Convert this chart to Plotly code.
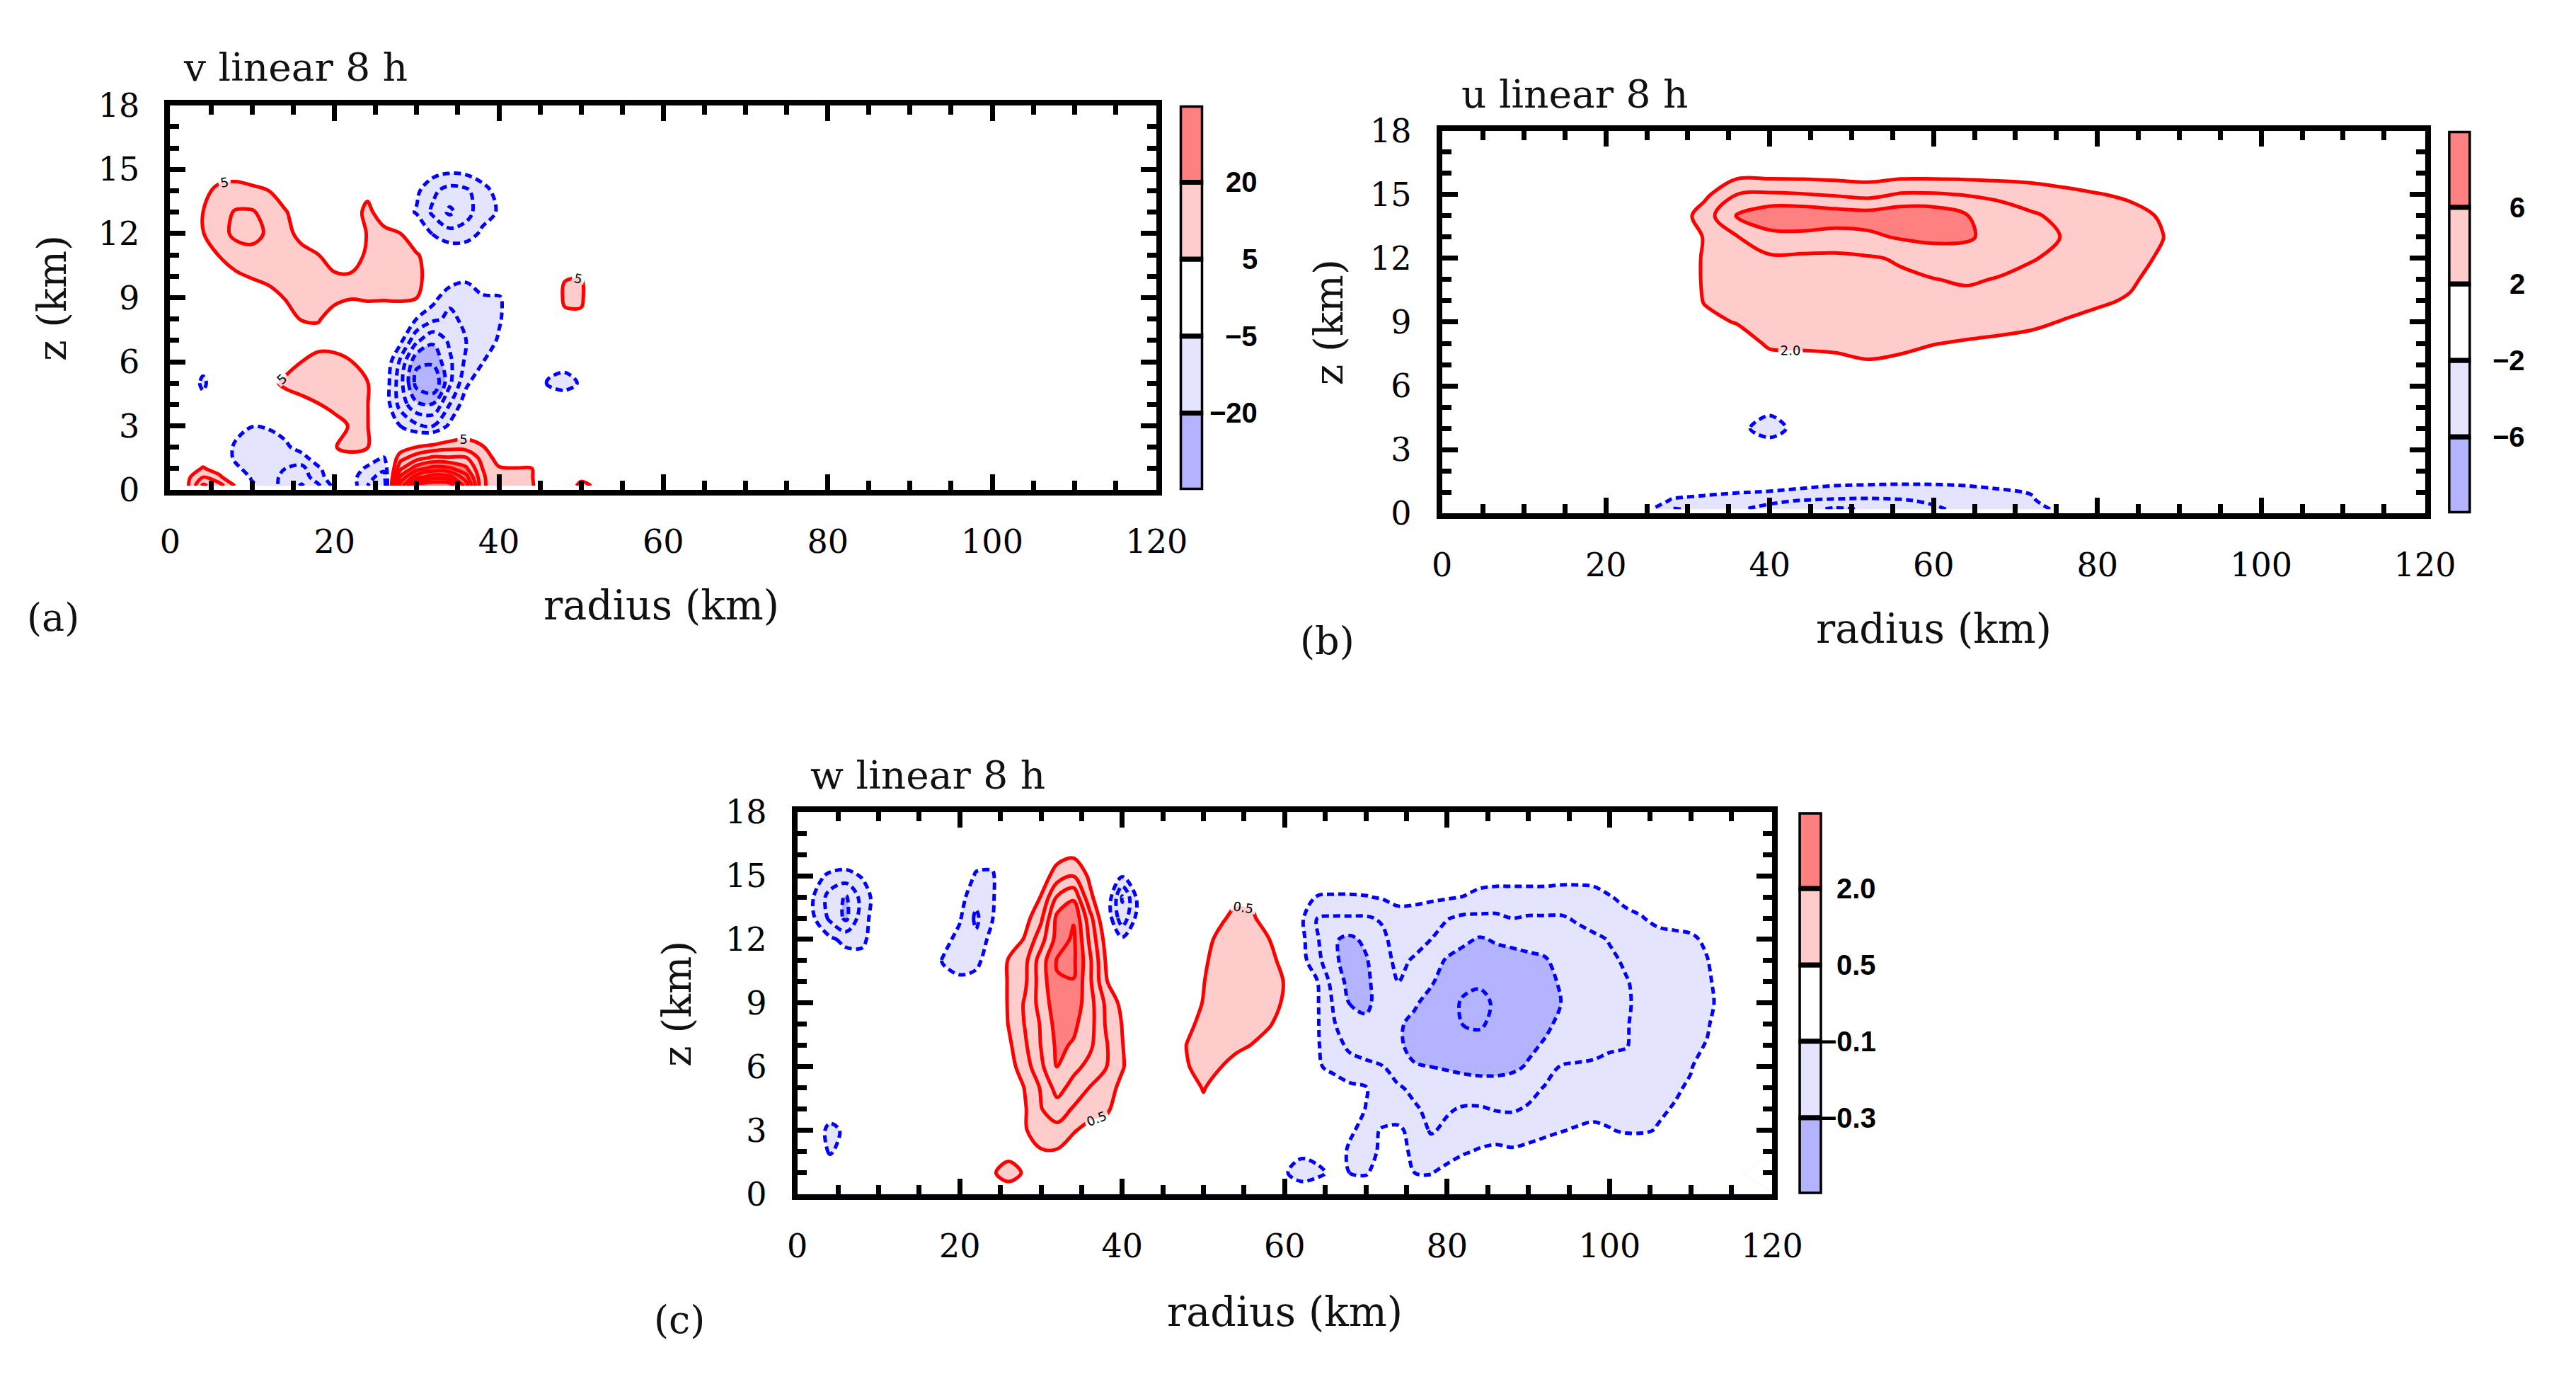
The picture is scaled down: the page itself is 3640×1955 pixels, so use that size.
import plotly.graph_objects as go

# page is 3640 x 1955; the browser keeps an 8 px body margin, so the figure is
# made that much smaller and every page position below is shifted by it
PAGE_W, PAGE_H, PAD = 3640, 1955, 8
W, H = PAGE_W - 2 * PAD, PAGE_H - 2 * PAD
SERIF = "DejaVu Serif"
SMOOTH = 1.0

# ---------------- (a) v, linear, 8 h ----------------
V_RADIUS = [0, 2, 4, 6, 8, 10, 12, 14, 16, 18, 20, 22, 24, 26, 28, 30, 32, 34, 36, 38,
            40, 42, 44, 46, 48, 50, 52, 56, 120]
V_HEIGHT = [0.2, 0.6, 1.0, 1.5, 2, 3, 4, 5, 6, 7, 8, 9, 10, 11, 12, 13, 14, 15, 16, 17, 18]
V_WIND = [
    [0, 3.5, 16, 12, 4.5, -4, -7.5, -12, -15.5, -11, -3.5, -2, -10, -14, 27, 47, 50, 49, 33, 10.5, 8, 7, 5.6, 0, 1, 6.5, 4, 0, 0],
    [0, 3.5, 10, 6, 0, -6, -8.5, -11, -13, -7, -2, -3, -8.5, -12, 21, 33, 38, 37, 27, 10.5, 7.5, 6.5, 5.3, 0, 0, 3.5, 2, 0, 0],
    [0, 2, 5.5, 2.5, -4, -7, -8.5, -10, -11.5, -6, -1, -2, -6, -9, 14, 23, 27, 26, 21, 10, 5.5, 5.2, 5.1, 0, 0, 0, 0, 0, 0],
    [0, 0, 2, -1, -6, -8, -8.5, -9, -7, -2, 3.5, 3.5, -2, -5.5, 8, 13, 16, 15.5, 15.5, 8, 3, 2, 1.5, 0, 0, 0, 0, 0, 0],
    [0, 0, 0, -1, -6, -7.5, -7.5, -6, -3, 1, 4.8, 6.2, 5.3, -1, 2, 5.2, 7, 8.5, 8, 5.5, 1, 0, 0, 0, 0, 0, 0, 0, 0],
    [0, 0, 0, -1, -3, -4.9, -4.5, -3, -1, 1, 3, 5.5, 5.2, 0, -5, -9, -10, -4, 0, 0, 0, 0, 0, 0, 0, 0, 0, 0, 0],
    [0, 0, -3, 0, 0, -1, 0, 2, 3.5, 4.8, 6.5, 6.5, 5.2, -1, -12, -19, -19.5, -10, -2, 0, 0, 0, 0, -1.5, -2, 0, 0, 0, 0],
    [0, -1, -6, -1, 0, 1, 3.5, 6, 7, 7.5, 7.5, 6.5, 5.3, -1, -13, -27, -30, -16, -6, -1, 0, 0, -1, -5.5, -6.5, -4.5, 0, 0, 0],
    [0, 0, -3, 0, 0, 0, 1, 3, 5, 6.3, 6.5, 5.2, 2, 0, -11, -24, -24, -16, -9, -5.2, -2, 0, 0, -3, -3.5, -1, 0, 0, 0],
    [0, 0, 0, 0, 0, 0, 0, 1.5, 3, 3.5, 3, 2, 1, 0, -3.5, -14, -19, -14, -10, -7.5, -4.5, -1, 0, 0, 0, 0, 0, 0, 0],
    [0, 0, 0, 0, 0, 0, 1, 3.5, 5.2, 5.3, 3.5, 2.5, 2.5, 2.5, 1, -5.2, -9, -11, -9, -7, -5.5, -2, 0, 0, 4.2, 4.3, 0, 0, 0],
    [0, 0, 0, 0, 0, 1, 3, 5.2, 6.5, 6.5, 5.8, 5.2, 5.5, 5.4, 5.8, 5.1, -3, -9, -7.5, -5.5, -5.5, -2, 0, 1, 5.6, 5.6, 1, 0, 0],
    [0, 0, 1, 2.5, 4, 5.5, 6.5, 7, 7, 6, 5.5, 5.3, 6, 6.5, 6.5, 6, 3, -1, -4, -2, 0, 0, 0, 0, 4.8, 4.9, 0, 0, 0],
    [0, 1, 3, 5.2, 8, 9, 8.5, 7.5, 6.5, 5.1, 3, 3.5, 5.5, 6.5, 6.5, 5.5, 2, -1, -1, 0, 0, 0, 0, 0, 0, 0, 0, 0, 0],
    [1, 3, 4.8, 8.5, 11, 11, 9.5, 6.5, 3.5, 2, 1.5, 2.5, 5.2, 6, 5.1, 0, -5.5, -8, -7.5, -4, -1.5, 0, 0, 0, 0, 0, 0, 0, 0],
    [0, 2, 5, 8, 10.5, 10.5, 8, 5.3, 3, 2, 2, 3, 6, 3, -2, -5.5, -11, -16, -12, -7, -4.5, -2, 0, 0, 0, 0, 0, 0, 0],
    [0, 2, 4, 6, 6.5, 6, 5, 3, 1, 0, 0, 1, 4, 1, 0, -4, -9, -12, -11, -7, -3, 0, 0, 0, 0, 0, 0, 0, 0],
    [0, 0, 1, 3, 3, 2, 1, 0, 0, 0, 0, 0, 0, 0, 0, -1, -2.5, -3.5, -3, -1.5, 0, 0, 0, 0, 0, 0, 0, 0, 0],
    [0, 0, 0, 0, 0, 0, 0, 0, 0, 0, 0, 0, 0, 0, 0, 0, 0, 0, 0, 0, 0, 0, 0, 0, 0, 0, 0, 0, 0],
    [0, 0, 0, 0, 0, 0, 0, 0, 0, 0, 0, 0, 0, 0, 0, 0, 0, 0, 0, 0, 0, 0, 0, 0, 0, 0, 0, 0, 0],
    [0, 0, 0, 0, 0, 0, 0, 0, 0, 0, 0, 0, 0, 0, 0, 0, 0, 0, 0, 0, 0, 0, 0, 0, 0, 0, 0, 0, 0],
]
V_SHADES = [-20, -5, 5, 20]
V_SHADE_LABELS = ["\u221220", "\u22125", "5", "20"]

# ---------------- (b) u, linear, 8 h ----------------
U_RADIUS = [0, 20, 24, 28, 32, 36, 40, 44, 48, 52, 56, 60, 64, 68, 72, 76, 80, 84, 88, 92, 96, 120]
U_HEIGHT = [0.2, 0.6, 1.0, 1.5, 2, 3, 4, 5, 6, 7, 8, 9, 10, 11, 12, 13, 14, 15, 16, 17, 18]
U_WIND = [
    [0, 0, -0.5, -4.2, -3.5, -3.8, -4.6, -5.5, -6.3, -5.8, -5, -4.3, -3.5, -3, -2.5, -1.6, 0, 0, 0, 0, 0, 0],
    [0, 0, 0, -2.2, -2.6, -3, -3.6, -4.1, -4.3, -4.4, -4.2, -3.7, -3.2, -2.8, -2.2, -0.8, 0, 0, 0, 0, 0, 0],
    [0, 0, 0, -1.2, -1.6, -1.9, -2.1, -2.4, -2.8, -2.9, -2.9, -2.8, -2.6, -2.3, -1.9, -0.5, 0, 0, 0, 0, 0, 0],
    [0, 0, 0, -0.3, -0.5, -0.7, -1, -1.3, -1.5, -1.6, -1.7, -1.7, -1.6, -1.3, -0.8, -0.2, 0, 0, 0, 0, 0, 0],
    [0, 0, 0, 0, 0, 0, -0.3, -0.3, -0.3, -0.3, -0.3, -0.3, -0.3, 0, 0, 0, 0, 0, 0, 0, 0, 0],
    [0, 0, 0, 0, 0, -0.6, -1.2, -0.5, 0, 0, 0, 0, 0, 0, 0, 0, 0, 0, 0, 0, 0, 0],
    [0, 0, 0, 0, -0.3, -1.6, -2.6, -1.4, -0.3, 0, 0, 0, 0, 0, 0, 0, 0, 0, 0, 0, 0, 0],
    [0, 0, 0, 0, 0, -0.8, -1.6, -0.7, 0, 0, 0, 0, 0, 0, 0, 0, 0, 0, 0, 0, 0, 0],
    [0, 0, 0, 0, 0, 0, 0.3, 0.5, 0.7, 0.9, 0.8, 0.6, 0.3, 0, 0, 0, 0, 0, 0, 0, 0, 0],
    [0, 0, 0, 0, 0, 0, 1.2, 1.4, 1.5, 1.8, 1.6, 1.3, 0.9, 0.7, 0.5, 0.2, 0, 0, 0, 0, 0, 0],
    [0, 0, 0, 0, 0.5, 1.0, 2.3, 2.3, 2.4, 2.6, 2.4, 2.05, 1.85, 1.7, 1.5, 1.1, 0.5, 0, 0, 0, 0, 0],
    [0, 0, 0, 0, 1.5, 2.1, 2.6, 2.7, 2.8, 2.9, 2.9, 2.8, 2.7, 2.5, 2.3, 1.9, 1.4, 0.6, 0, 0, 0, 0],
    [0, 0, 0, 0, 2.1, 2.4, 2.9, 3.0, 3.1, 3.2, 3.3, 3.4, 3.5, 3.2, 2.9, 2.6, 2.3, 1.8, 0.7, 0, 0, 0],
    [0, 0, 0, 0.3, 2.2, 2.7, 3.2, 3.3, 3.4, 3.5, 3.7, 3.95, 4.2, 3.9, 3.5, 3.1, 2.8, 2.3, 1.2, 0.3, 0, 0],
    [0, 0, 0, 0.3, 2.2, 3.1, 3.7, 3.6, 3.6, 3.8, 4.2, 4.8, 5.0, 4.6, 4.1, 3.6, 3.1, 2.7, 1.7, 0.5, 0, 0],
    [0, 0, 0, 0.3, 2.1, 3.9, 5.3, 5.4, 5.2, 5.6, 6.2, 6.5, 6.3, 5.2, 4.6, 3.9, 3.2, 2.8, 2.05, 0.6, 0, 0],
    [0, 0, 0, 0.3, 3.0, 6.1, 7.4, 7.5, 7.1, 6.9, 7.4, 7.3, 6.1, 4.9, 4.2, 3.6, 3.0, 2.6, 1.8, 0.5, 0, 0],
    [0, 0, 0, 0, 1.5, 4.0, 4.3, 4.1, 3.8, 3.4, 4.2, 4.2, 3.9, 3.6, 3.2, 2.6, 2.1, 1.7, 0.9, 0.2, 0, 0],
    [0, 0, 0, 0, 0.3, 1.3, 1.2, 1.2, 1.1, 1.0, 1.2, 1.2, 1.2, 1.1, 1.0, 0.8, 0.6, 0.3, 0.2, 0, 0, 0],
    [0, 0, 0, 0, 0, 0, 0, 0, 0, 0, 0, 0, 0, 0, 0, 0, 0, 0, 0, 0, 0, 0],
    [0, 0, 0, 0, 0, 0, 0, 0, 0, 0, 0, 0, 0, 0, 0, 0, 0, 0, 0, 0, 0, 0],
]
U_SHADES = [-6, -2, 2, 6]
U_SHADE_LABELS = ["\u22126", "\u22122", "2", "6"]

# ---------------- (c) w, linear, 8 h ----------------
W_RADIUS = [0, 2, 4, 6, 8, 10, 12, 16, 18, 20, 22, 24, 26, 28, 30, 32, 34, 36, 38, 40,
            42, 44, 46, 48, 50, 52, 54, 56, 58, 60, 62, 64, 66, 68, 70, 72, 74, 76, 78, 80,
            82, 84, 86, 88, 90, 92, 94, 96, 98, 100, 102, 104, 106, 108, 110, 112, 114, 116, 120]
W_HEIGHT = [0, 1, 2, 3, 4, 5, 6, 7, 8, 9, 10, 11, 12, 13, 14, 15, 16, 18]
W_WIND = [
    # z = 0
    [0, 0, 0, 0, 0, 0, 0, 0, 0, 0, 0, 0, 0, 0, 0, 0, 0, 0, 0, 0, 0, 0, 0, 0, 0, 0, 0, 0, 0,
     -0.02, -0.04, -0.03, 0, 0, -0.02, 0, 0, -0.03, -0.04, -0.02, 0, 0, 0, 0, 0, 0, 0, 0, 0, 0, 0, 0, 0, 0, 0, 0, 0, 0, 0],
    # z = 1
    [0, 0, -0.03, 0, 0, 0, 0, 0, 0, 0, 0, 0.4, 0.85, 0.4, 0, 0, 0, 0, 0, 0, 0, 0, 0, 0, 0, 0, 0, 0, -0.02,
     -0.09, -0.14, -0.12, -0.08, -0.1, -0.11, -0.05, -0.05, -0.1, -0.105, -0.07, -0.04, -0.02, -0.01, 0, 0, 0, 0, 0, 0, 0, 0, 0, 0, 0, 0, 0, 0, 0],
    # z = 2
    [0, -0.03, -0.11, -0.06, 0, 0, 0, 0, 0, 0, 0, 0, 0.2, 0.2, 0.45, 0.45, 0.2, 0, 0, 0, 0, 0, 0, 0, 0, 0, 0, 0, 0,
     -0.06, -0.08, -0.07, -0.06, -0.11, -0.12, -0.09, -0.07, -0.12, -0.15, -0.14, -0.11, -0.09, -0.08, -0.09, -0.08, -0.06, -0.04, -0.03, -0.02, -0.02, -0.03, -0.03, -0.02, 0, 0, 0, 0, 0, 0],
    # z = 3
    [0, -0.03, -0.13, -0.08, 0, 0, 0, 0, 0, 0, 0, 0, 0, 0.45, 0.8, 0.85, 0.55, 0.3, 0.25, 0, 0, 0, 0, 0, 0, 0, 0, 0, 0,
     0, 0, 0, -0.03, -0.09, -0.12, -0.095, -0.08, -0.14, -0.21, -0.18, -0.16, -0.15, -0.14, -0.14, -0.13, -0.12, -0.105, -0.09, -0.08, -0.095, -0.11, -0.11, -0.095, -0.06, -0.03, 0, 0, 0, 0],
    # z = 4
    [0, 0, -0.04, -0.02, 0, 0, 0, 0, 0, 0, 0, 0, 0, 0.45, 0.98, 1.25, 0.95, 0.75, 0.6, 0.2, 0, 0, 0, 0.1, 0.42, 0.1, 0, 0, 0,
     0, -0.01, -0.02, -0.04, -0.07, -0.102, -0.13, -0.16, -0.19, -0.22, -0.21, -0.19, -0.19, -0.205, -0.21, -0.19, -0.16, -0.15, -0.14, -0.13, -0.13, -0.13, -0.12, -0.11, -0.095, -0.06, -0.02, 0, 0, 0],
    # z = 5
    [0, 0, 0, 0, 0, 0, 0, 0, 0, 0, 0, 0, 0.1, 0.52, 1.05, 1.7, 1.3, 0.98, 0.75, 0.35, 0, 0, 0, 0.35, 0.52, 0.35, 0, 0, 0,
     0, -0.02, -0.04, -0.06, -0.08, -0.095, -0.14, -0.19, -0.22, -0.24, -0.25, -0.26, -0.26, -0.26, -0.25, -0.23, -0.195, -0.17, -0.16, -0.155, -0.15, -0.14, -0.13, -0.12, -0.11, -0.09, -0.05, -0.01, 0, 0],
    # z = 6
    [0, 0, 0, 0, 0, 0, 0, 0, 0, 0, 0, 0, 0.3, 0.75, 1.4, 2.02, 1.65, 1.35, 1.02, 0.55, 0.1, 0, 0.15, 0.48, 0.62, 0.52, 0.3, 0.15, 0,
     0, -0.04, -0.09, -0.12, -0.16, -0.18, -0.195, -0.25, -0.295, -0.3, -0.31, -0.32, -0.33, -0.33, -0.32, -0.29, -0.24, -0.195, -0.19, -0.19, -0.18, -0.17, -0.15, -0.14, -0.13, -0.105, -0.06, -0.02, 0, 0],
    # z = 7
    [0, 0, 0, 0, 0, 0, 0, 0, 0, 0, 0, 0, 0.4, 0.92, 1.52, 2.1, 1.95, 1.6, 1.05, 0.52, 0.1, 0, 0.2, 0.52, 0.68, 0.7, 0.62, 0.48, 0.3,
     0.1, -0.04, -0.09, -0.16, -0.22, -0.24, -0.26, -0.29, -0.32, -0.34, -0.36, -0.37, -0.37, -0.36, -0.34, -0.32, -0.29, -0.26, -0.24, -0.22, -0.21, -0.205, -0.17, -0.16, -0.14, -0.12, -0.095, -0.04, 0, 0],
    # z = 8
    [0, 0, 0, 0, 0, 0, 0, 0, 0, 0, 0, 0, 0.52, 1.02, 1.55, 2.2, 2.1, 1.7, 0.95, 0.48, 0.1, 0, 0.05, 0.4, 0.62, 0.78, 0.78, 0.7, 0.55,
     0.3, -0.04, -0.09, -0.19, -0.27, -0.29, -0.28, -0.29, -0.32, -0.34, -0.37, -0.402, -0.41, -0.38, -0.36, -0.34, -0.32, -0.28, -0.26, -0.24, -0.22, -0.205, -0.18, -0.17, -0.16, -0.14, -0.11, -0.05, 0, 0],
    # z = 9
    [0, 0, 0, 0, 0, 0, 0, 0, 0, 0, 0, 0, 0.55, 1.05, 1.7, 2.3, 2.3, 1.7, 0.9, 0.35, 0.05, 0, 0, 0.3, 0.52, 0.8, 0.85, 0.82, 0.65,
     0.45, -0.04, -0.09, -0.21, -0.302, -0.31, -0.28, -0.27, -0.29, -0.33, -0.37, -0.41, -0.42, -0.39, -0.37, -0.36, -0.34, -0.3, -0.27, -0.25, -0.23, -0.21, -0.18, -0.17, -0.16, -0.15, -0.13, -0.06, 0, 0],
    # z = 10
    [0, 0, 0, 0, 0, 0, 0, 0, -0.06, -0.08, -0.06, 0, 0.55, 0.9, 1.75, 2.45, 2.48, 1.6, 0.55, 0, 0, 0, 0, 0.25, 0.48, 0.78, 0.88, 0.85, 0.7,
     0.48, -0.05, -0.095, -0.24, -0.33, -0.32, -0.25, -0.2, -0.24, -0.29, -0.34, -0.38, -0.39, -0.37, -0.35, -0.34, -0.33, -0.29, -0.26, -0.24, -0.23, -0.205, -0.18, -0.17, -0.16, -0.15, -0.12, -0.05, 0, 0],
    # z = 11
    [0, 0, -0.02, -0.05, -0.07, -0.02, 0, -0.03, -0.11, -0.14, -0.13, -0.03, 0.55, 0.85, 1.75, 2.55, 2.6, 1.6, 0.45, 0, 0, 0, 0, 0.2, 0.42, 0.7, 0.82, 0.8, 0.65,
     0.35, -0.06, -0.17, -0.28, -0.34, -0.31, -0.23, -0.18, -0.21, -0.26, -0.31, -0.34, -0.35, -0.34, -0.33, -0.32, -0.31, -0.27, -0.25, -0.23, -0.215, -0.19, -0.17, -0.16, -0.15, -0.14, -0.105, -0.04, 0, 0],
    # z = 12
    [0, -0.03, -0.08, -0.13, -0.12, -0.04, 0, -0.02, -0.07, -0.13, -0.18, -0.06, 0.1, 0.55, 1.3, 2.2, 2.6, 1.4, 0.3, -0.08, -0.01, 0, 0, 0.1, 0.35, 0.6, 0.72, 0.7, 0.52,
     0.2, -0.07, -0.19, -0.29, -0.32, -0.28, -0.22, -0.16, -0.17, -0.2, -0.25, -0.28, -0.31, -0.29, -0.28, -0.27, -0.26, -0.24, -0.23, -0.22, -0.195, -0.17, -0.15, -0.14, -0.13, -0.12, -0.08, -0.03, 0, 0],
    # z = 13
    [-0.02, -0.09, -0.22, -0.32, -0.14, -0.04, 0, 0, -0.02, -0.09, -0.22, -0.105, 0, 0.3, 0.9, 2.15, 2.45, 1.2, -0.01, -0.27, -0.05, 0, 0, 0, 0.2, 0.42, 0.62, 0.56, 0.3,
     -0.02, -0.08, -0.2, -0.21, -0.21, -0.21, -0.19, -0.14, -0.15, -0.17, -0.195, -0.22, -0.22, -0.22, -0.2, -0.21, -0.21, -0.21, -0.19, -0.16, -0.14, -0.12, -0.105, -0.07, -0.06, -0.05, -0.03, 0, 0, 0],
    # z = 14
    [-0.02, -0.1, -0.24, -0.31, -0.16, -0.04, 0, 0, 0, -0.06, -0.17, -0.11, -0.02, 0.2, 0.52, 1.55, 1.9, 0.62, 0, -0.31, -0.06, 0, 0, 0, 0, 0, 0.4, 0.4, 0,
     0, -0.05, -0.105, -0.11, -0.11, -0.105, -0.09, -0.07, -0.07, -0.08, -0.09, -0.102, -0.12, -0.13, -0.13, -0.13, -0.13, -0.14, -0.14, -0.13, -0.105, -0.08, -0.06, -0.04, -0.03, -0.02, 0, 0, 0, 0],
    # z = 15
    [0, -0.06, -0.12, -0.14, -0.09, -0.02, 0, 0, 0, -0.03, -0.11, -0.11, -0.02, 0, 0.2, 0.75, 0.98, 0.4, 0, -0.09, -0.02, 0, 0, 0, 0, 0, 0, 0, 0,
     0, 0, -0.03, -0.03, -0.03, -0.03, -0.03, -0.03, -0.03, -0.03, -0.03, -0.05, -0.07, -0.07, -0.07, -0.07, -0.07, -0.07, -0.07, -0.07, -0.05, -0.03, 0, 0, 0, 0, 0, 0, 0, 0],
    # z = 16
    [0, 0, 0, 0, 0, 0, 0, 0, 0, 0, -0.06, -0.07, 0, 0, 0, 0.3, 0.4, 0, 0, 0, 0, 0, 0, 0, 0, 0, 0, 0, 0,
     0, 0, 0, 0, 0, 0, 0, 0, 0, 0, 0, 0, 0, 0, 0, 0, 0, 0, 0, 0, 0, 0, 0, 0, 0, 0, 0, 0, 0, 0],
    # z = 18
    [0, 0, 0, 0, 0, 0, 0, 0, 0, 0, 0, 0, 0, 0, 0, 0, 0, 0, 0, 0, 0, 0, 0, 0, 0, 0, 0, 0, 0,
     0, 0, 0, 0, 0, 0, 0, 0, 0, 0, 0, 0, 0, 0, 0, 0, 0, 0, 0, 0, 0, 0, 0, 0, 0, 0, 0, 0, 0, 0],
]
W_SHADES = [-0.3, -0.1, 0.5, 2.0]
W_SHADE_LABELS = ["\u22120.3", "\u22120.1", "0.5", "2.0"]

SHADE_COLORS = ["#b3b3ff", "#e4e4ff", "#ffffff", "#ffcccc", "#ff8080"]


def px(x, y):
    # page pixel -> paper fraction of the (padded) figure
    return (x - PAD) / W, 1 - (y - PAD) / H


def stepped_scale(shades, start, end, size):
    lo, hi = start - size / 2, end + size / 2
    scale = [[0, SHADE_COLORS[0]]]
    for i, s in enumerate(shades):
        t = (s - lo) / (hi - lo)
        scale.append([t, SHADE_COLORS[i]])
        scale.append([t, SHADE_COLORS[i + 1]])
    scale.append([1, SHADE_COLORS[-1]])
    return scale


fig = go.Figure()
annotations = []

# panel geometry in page pixels: frame (left, top, right, bottom), colour bar (left, right)
panels = [
    dict(radius=V_RADIUS, height=V_HEIGHT, field=V_WIND, shades=V_SHADES, labels=V_SHADE_LABELS,
         shade_step=5, pos_step=5, neg_step=5, fmt=".0f",
         frame=(229, 125, 1646, 684), bar=(1679, 1713),
         title="v linear 8 h", title_xy=(246, 70), xlab_xy=(935, 852), ylab_xy=(60, 405),
         tag="(a)", tag_xy=(61, 870)),
    dict(radius=U_RADIUS, height=U_HEIGHT, field=U_WIND, shades=U_SHADES, labels=U_SHADE_LABELS,
         shade_step=2, pos_step=2, neg_step=2, fmt=".1f",
         frame=(2056, 162, 3468, 718), bar=(3501, 3534),
         title="u linear 8 h", title_xy=(2082, 109), xlab_xy=(2762, 885), ylab_xy=(1894, 440),
         tag="(b)", tag_xy=(1891, 903)),
    dict(radius=W_RADIUS, height=W_HEIGHT, field=W_WIND, shades=W_SHADES, labels=W_SHADE_LABELS,
         shade_step=0.1, pos_step=0.5, neg_step=0.1, fmt=".1f",
         frame=(1130, 1152, 2530, 1707), bar=(2568, 2602),
         title="w linear 8 h", title_xy=(1147, 1098), xlab_xy=(1830, 1878), ylab_xy=(957, 1431),
         tag="(c)", tag_xy=(960, 1890)),
]

layout_axes = {}
for n, p in enumerate(panels, start=1):
    xa, ya = ("x", "y") if n == 1 else (f"x{n}", f"y{n}")
    common = dict(x=p["radius"], y=p["height"], z=p["field"], xaxis=xa, yaxis=ya,
                  showscale=False, hoverinfo="skip", autocontour=False)
    lo, hi = p["shades"][0], p["shades"][-1]
    fig.add_trace(go.Contour(
        **common,
        contours=dict(coloring="fill", start=lo, end=hi + p["shade_step"] * 1e-3, size=p["shade_step"]),
        colorscale=stepped_scale(p["shades"], lo, hi, p["shade_step"]),
        line=dict(width=0, smoothing=SMOOTH),
    ))
    zmax = max(max(r) for r in p["field"])
    zmin = min(min(r) for r in p["field"])
    first = p["pos_step"]
    # labelled first positive contour
    fig.add_trace(go.Contour(
        **common,
        contours=dict(coloring="none", start=first, end=first, size=p["pos_step"], showlabels=True,
                      labelfont=dict(family="DejaVu Sans", size=18, color="black"),
                      labelformat=p["fmt"]),
        line=dict(color="#ff0000", width=5, smoothing=SMOOTH),
    ))
    fig.add_trace(go.Contour(
        **common,
        contours=dict(coloring="none", start=2 * first, end=zmax + 1e-9, size=p["pos_step"]),
        line=dict(color="#ff0000", width=5, smoothing=SMOOTH),
    ))
    fig.add_trace(go.Contour(
        **common,
        contours=dict(coloring="none", start=-p["neg_step"] * round(-zmin / p["neg_step"] + 0.5),
                      end=-p["neg_step"] * 0.99, size=p["neg_step"]),
        line=dict(color="#0000ff", width=5, dash="10px,6px", smoothing=SMOOTH),
    ))

    l, t, r, b = p["frame"]
    x0, y1 = px(l, t)
    x1, y0 = px(r, b)
    tick_common = dict(ticks="inside", tickcolor="black", tickwidth=7, ticklen=22,
                       showline=True, linewidth=8, linecolor="black", mirror="allticks",
                       showgrid=False, zeroline=False, tickmode="linear", tick0=0,
                       tickfont=dict(family=SERIF, size=46, color="black"))
    layout_axes["xaxis" if n == 1 else f"xaxis{n}"] = dict(
        domain=[x0, x1], anchor=ya, range=[0, 120], dtick=20,
        minor=dict(ticks="inside", tick0=0, dtick=5, ticklen=13, tickwidth=7, tickcolor="black"),
        ticklabelstandoff=26, **tick_common)
    layout_axes["yaxis" if n == 1 else f"yaxis{n}"] = dict(
        domain=[y0, y1], anchor=xa, range=[0, 18], dtick=3,
        minor=dict(ticks="inside", tick0=0, dtick=1, ticklen=13, tickwidth=7, tickcolor="black"),
        ticklabelstandoff=26, **tick_common)

    # colour bar as stacked boxes
    cb = n + 3
    bl, br = p["bar"]
    nb = len(SHADE_COLORS)
    fig.add_trace(go.Bar(
        x=[0] * nb, y=[1] * nb, base=list(range(nb)), width=1,
        marker=dict(color=SHADE_COLORS, line=dict(color="black", width=7)),
        xaxis=f"x{cb}", yaxis=f"y{cb}", hoverinfo="skip", showlegend=False, cliponaxis=False,
    ))
    bx0, _ = px(bl, 0)
    bx1, _ = px(br, 0)
    layout_axes[f"xaxis{cb}"] = dict(domain=[bx0, bx1], anchor=f"y{cb}", range=[-0.5, 0.5],
                                     visible=False, fixedrange=True)
    layout_axes[f"yaxis{cb}"] = dict(domain=[y0, y1], anchor=f"x{cb}", range=[0, nb],
                                     visible=False, fixedrange=True)
    lab_x, _ = px(br + 80, 0)
    for i, lab in enumerate(p["labels"], start=1):
        annotations.append(dict(
            text=lab, x=lab_x, xref="paper", xanchor="right",
            y=i, yref=f"y{cb}", yanchor="middle", showarrow=False,
            font=dict(family="Liberation Sans", size=40, color="black", weight="bold")))

    for txt, (ax_, ay_), size, anchor, angle in [
        (p["title"], p["title_xy"], 55, "left", 0),
        ("radius (km)", p["xlab_xy"], 57, "center", 0),
        ("z (km)", p["ylab_xy"], 56, "center", -90),
        (p["tag"], p["tag_xy"], 54, "center", 0),
    ]:
        xx, yy = px(ax_, ay_)
        annotations.append(dict(text=txt, x=xx, y=yy, xref="paper", yref="paper",
                                xanchor=anchor, yanchor="middle", showarrow=False,
                                textangle=angle, font=dict(family=SERIF, size=size, color="#111111")))

fig.update_layout(
    width=W, height=H,
    margin=dict(l=0, r=0, t=0, b=0),
    paper_bgcolor="white", plot_bgcolor="white",
    showlegend=False, barmode="overlay",
    annotations=annotations,
    **layout_axes,
)

fig.write_html("out.html")
